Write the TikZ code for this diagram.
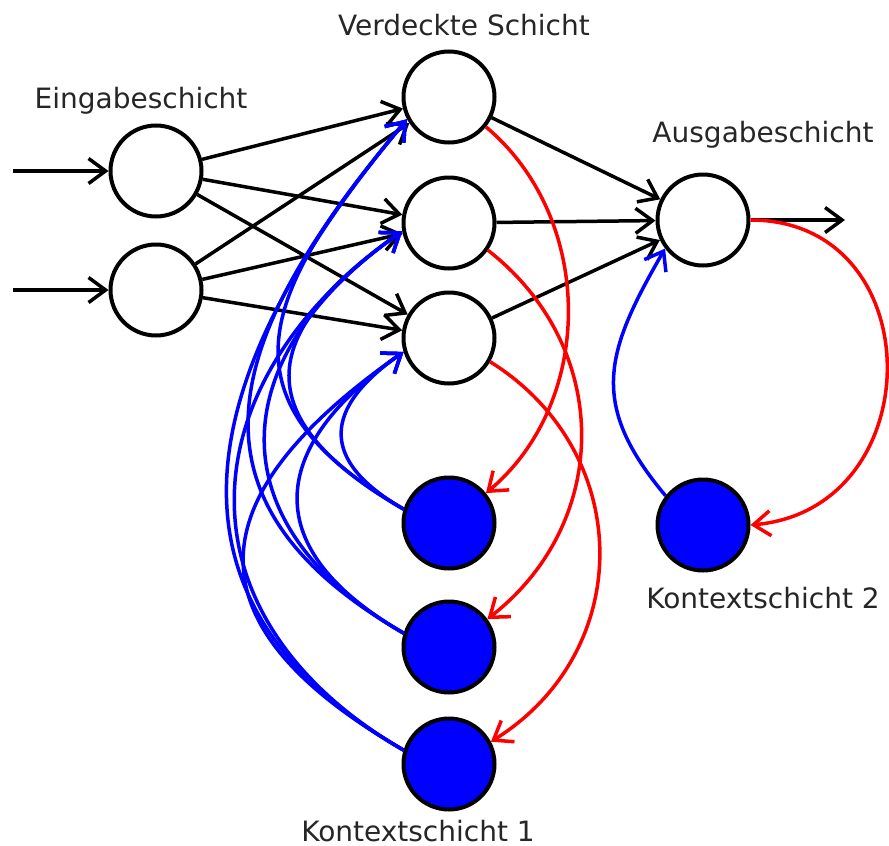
\documentclass[tikz,border=0pt]{standalone}
\usepackage{fontspec}
\setmainfont{DejaVu Sans}
\usetikzlibrary{arrows.meta}
\begin{document}
\begin{tikzpicture}[x=1pt,y=1pt,
  neuron/.style={circle, draw=black, line width=4pt, minimum size=91pt, inner sep=0pt, fill=white},
  ctxneuron/.style={neuron, fill=blue},
  barb/.style={-{Straight Barb[length=17pt,width=25pt]}},
  conn/.style={barb, draw=black, line width=3.5pt},
  feedback/.style={barb, draw=red, line width=3.5pt},
  recur/.style={barb, draw=blue, line width=3.5pt},
  layerlabel/.style={anchor=base, text=black!85, inner sep=0pt, font=\fontsize{28}{34}\selectfont}
]
\fill[white] (0,0) rectangle (889,-846);
\useasboundingbox (0,0) rectangle (889,-846);

% neurons
\node[neuron] (i1) at (156,-171) {};
\node[neuron] (i2) at (156,-290) {};
\node[neuron] (h1) at (449,-97) {};
\node[neuron] (h2) at (449,-223) {};
\node[neuron] (h3) at (449,-338) {};
\node[neuron] (o)  at (703,-220) {};
\node[ctxneuron] (c1) at (449,-523) {};
\node[ctxneuron] (c2) at (449,-647) {};
\node[ctxneuron] (c3) at (449,-764) {};
\node[ctxneuron] (k)  at (703,-525) {};

% free ends of the input and output arrows
\coordinate (x1) at (13,-171);
\coordinate (x2) at (13,-290);
\coordinate (y1) at (845,-220);

% layer labels
\node[layerlabel] (lin)  at (141,-108) {Eingabeschicht};
\node[layerlabel] (lhid) at (464,-35)  {Verdeckte Schicht};
\node[layerlabel] (lout) at (763,-142) {Ausgabeschicht};
\node[layerlabel] (lk2)  at (763,-608) {Kontextschicht 2};
\node[layerlabel] (lk1)  at (418,-841) {Kontextschicht 1};

% feed-forward connections
\draw[conn] (x1) -- (i1);
\draw[conn] (x2) -- (i2);
\foreach \a in {i1,i2}
  \foreach \b in {h1,h2,h3}
    \draw[conn] (\a) -- (\b);
\foreach \b in {h1,h2,h3}
  \draw[conn] (\b) -- (o);
\draw[conn] (o) -- (y1);

% copies into the context units
\draw[feedback] (h1.-39) to[out=-40, in=40, looseness=1.0]  (c1.39);
\draw[feedback] (h2.-35) to[out=-38, in=38, looseness=1.1]  (c2.36);
\draw[feedback] (h3.-30) to[out=-32, in=32, looseness=1.15] (c3.28);
\draw[feedback] (o.east) to[out=0, in=5, looseness=1.53] (k.east);

% context units fed back into the hidden layer
\foreach \c/\h/\L/\e/\i in {c1/h1/1.46/208/230, c1/h2/1.65/190/215, c1/h3/1.6/197/215,
                           c2/h1/1.37/208/230, c2/h2/1.39/190/215, c2/h3/1.53/197/215,
                           c3/h1/1.27/208/230, c3/h2/1.31/190/215, c3/h3/1.63/197/215}
  \draw[recur] (\c.163) to[out=150, in=\i, looseness=\L] (\h.\e);
\draw[recur] (k.142) to[out=130, in=240, looseness=1.24] (o.217);
\end{tikzpicture}
\end{document}
